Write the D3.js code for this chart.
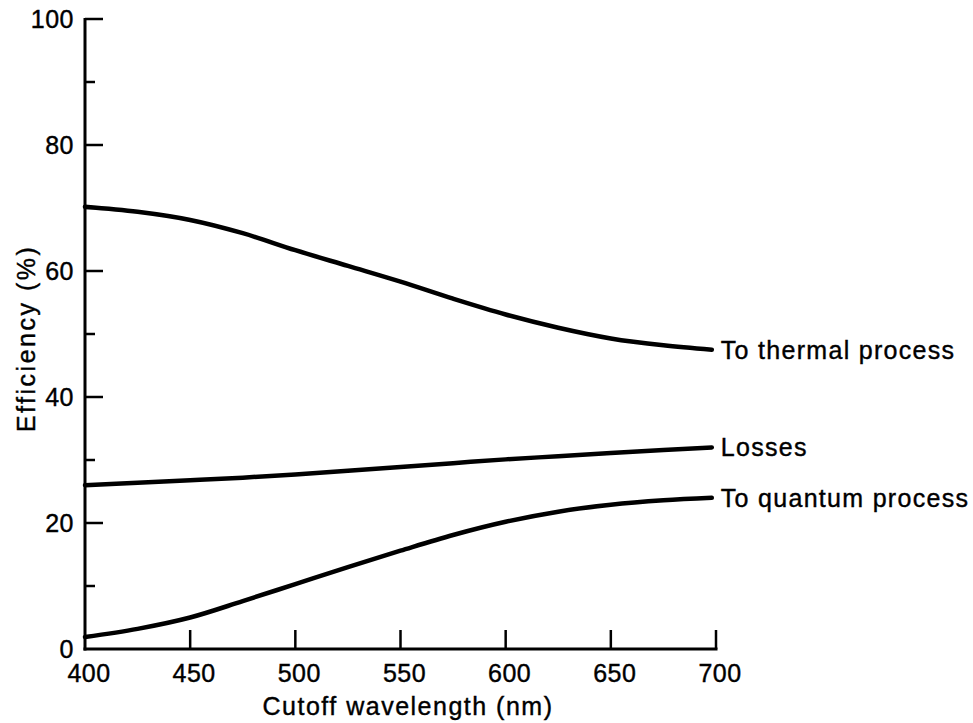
<!DOCTYPE html>
<html>
<head>
<meta charset="utf-8">
<script src="https://cdn.jsdelivr.net/npm/d3@7"></script>
<style>
  body { margin: 0; background: #fff; }
  svg { display: block; }
  text { font-family: "Liberation Sans", Arial, sans-serif; fill: #000; stroke: #000; stroke-width: 0.4px; }
</style>
</head>
<body>
<div id="chart"></div>
<script>
// wavelengths (nm)
const wavelengths = [400, 425, 450, 475, 500, 525, 550, 575, 600, 625, 650, 675, 698];
const thermal = [70.2, 69.4, 68.1, 66.0, 63.3, 60.8, 58.3, 55.6, 53.1, 51.0, 49.3, 48.2, 47.5];
const losses = [26.0, 26.4, 26.8, 27.2, 27.7, 28.3, 28.9, 29.5, 30.1, 30.6, 31.1, 31.6, 32.0];
const quantum = [1.9, 3.2, 5.0, 7.6, 10.3, 13.0, 15.6, 18.1, 20.2, 21.8, 22.9, 23.6, 24.0];
const seriesNames = ['To thermal process', 'Losses', 'To quantum process'];

const xTicks = [400, 450, 500, 550, 600, 650, 700];
const yMajor = [0, 20, 40, 60, 80, 100];
const yMinor = [10, 30, 50, 70, 90];

const width = 973;
const height = 723;
const margin = { left: 85, top: 19, right: 257, bottom: 74 };

const x = d3.scaleLinear()
  .domain([400, 700])
  .range([margin.left, width - margin.right]);
const y = d3.scaleLinear()
  .domain([0, 100])
  .range([height - margin.bottom, margin.top]);

const svg = d3.select('#chart')
  .append('svg')
  .attr('width', width)
  .attr('height', height);

// y axis, ticks point inward
const yAxis = svg.append('g')
  .attr('transform', `translate(${margin.left},0)`);
yAxis.append('line')
  .attr('y1', y(0) + 1.5)
  .attr('y2', y(100) - 1)
  .attr('stroke', '#000')
  .attr('stroke-width', 3);
yAxis.selectAll('.major')
  .data(yMajor.filter(d => d > 0))
  .join('line')
  .attr('class', 'major')
  .attr('x1', 0)
  .attr('x2', 18)
  .attr('y1', d => y(d))
  .attr('y2', d => y(d))
  .attr('stroke', '#000')
  .attr('stroke-width', 2.5);
yAxis.selectAll('.minor')
  .data(yMinor)
  .join('line')
  .attr('class', 'minor')
  .attr('x1', 0)
  .attr('x2', 10)
  .attr('y1', d => y(d))
  .attr('y2', d => y(d))
  .attr('stroke', '#000')
  .attr('stroke-width', 2.5);
yAxis.selectAll('text')
  .data(yMajor)
  .join('text')
  .attr('x', -11)
  .attr('y', d => y(d))
  .attr('dy', '0.36em')
  .attr('text-anchor', 'end')
  .style('font-size', '25px')
  .style('letter-spacing', '0.5px')
  .text(d => d);

// x axis, ticks point up
const xAxis = svg.append('g')
  .attr('transform', `translate(0,${y(0)})`);
xAxis.append('line')
  .attr('x1', x(400) - 1.5)
  .attr('x2', x(700) + 1.5)
  .attr('stroke', '#000')
  .attr('stroke-width', 3);
xAxis.selectAll('line.tick')
  .data(xTicks.filter(d => d > 400))
  .join('line')
  .attr('class', 'tick')
  .attr('x1', d => x(d))
  .attr('x2', d => x(d))
  .attr('y1', 0)
  .attr('y2', -19)
  .attr('stroke', '#000')
  .attr('stroke-width', 2.5);
xAxis.selectAll('text')
  .data(xTicks)
  .join('text')
  .attr('x', d => x(d) + 4)
  .attr('y', 33)
  .attr('text-anchor', 'middle')
  .style('font-size', '25px')
  .style('letter-spacing', '0.5px')
  .text(d => d);

// axis titles
svg.append('text')
  .attr('x', 408)
  .attr('y', 715)
  .attr('text-anchor', 'middle')
  .style('font-size', '25px')
  .style('letter-spacing', '1.5px')
  .text('Cutoff wavelength (nm)');

svg.append('text')
  .attr('transform', `translate(35,${y(49.3)}) rotate(-90)`)
  .attr('text-anchor', 'middle')
  .style('font-size', '25px')
  .style('letter-spacing', '2.5px')
  .text('Efficiency (%)');

// curves
const series = [thermal, losses, quantum];
const line = d3.line()
  .x((d, i) => x(wavelengths[i]))
  .y(d => y(d))
  .curve(d3.curveCatmullRom.alpha(0.5));

svg.selectAll('path.curve')
  .data(series)
  .join('path')
  .attr('class', 'curve')
  .attr('d', line)
  .attr('fill', 'none')
  .attr('stroke', '#000')
  .attr('stroke-width', 4.5)
  .attr('stroke-linecap', 'round');

svg.selectAll('text.label')
  .data(series)
  .join('text')
  .attr('class', 'label')
  .attr('x', x(wavelengths[wavelengths.length - 1]) + 9)
  .attr('y', d => y(d[d.length - 1]))
  .attr('dy', '0.36em')
  .style('font-size', '25px')
  .style('letter-spacing', '1.3px')
  .text((d, i) => seriesNames[i]);
</script>
</body>
</html>
